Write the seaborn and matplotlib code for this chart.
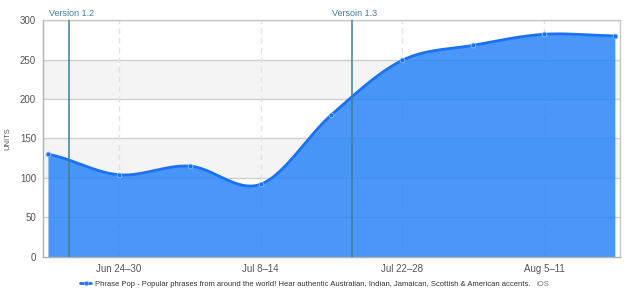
import numpy as np
import pandas as pd
import matplotlib
matplotlib.use("Agg")
import matplotlib.pyplot as plt
import seaborn as sns
from matplotlib.lines import Line2D

# ---- data ----
weeks = ["Jun 17–23", "Jun 24–30", "Jul 1–7", "Jul 8–14", "Jul 15–21",
         "Jul 22–28", "Jul 29–Aug 4", "Aug 5–11", "Aug 12–18"]
units = [130, 104, 115, 92, 180, 249, 268, 282, 280]
shown_ticks = ["Jun 24–30", "Jul 8–14", "Jul 22–28", "Aug 5–11"]
version_labels = ["Version 1.2", "Versoin 1.3"]
version_pos = [0.30, 4.29]
series_label = ("Phrase Pop - Popular phrases from around the world! Hear authentic "
                "Australian, Indian, Jamaican, Scottish & American accents.")
platform = "iOS"
y_ticks = [0, 50, 100, 150, 200, 250, 300]

df = pd.DataFrame({"x": np.arange(len(weeks)), "units": units})

sns.set_style("white")
plt.rcParams["font.family"] = ["Liberation Sans", "DejaVu Sans"]

fig = plt.figure(figsize=(6.39, 3.04), dpi=100)
ax = fig.add_axes([0.0673, 0.155, 0.9027, 0.779])

# smooth curve (cubic Hermite with Catmull-Rom tangents) through the data
x = df["x"].to_numpy(float)
y = df["units"].to_numpy(float)
n = len(x)
m = np.zeros(n)
m[1:-1] = (y[2:] - y[:-2]) / (x[2:] - x[:-2])
m[0] = (y[1] - y[0]) / (x[1] - x[0]) * 0.6
m[-1] = 0.0
xs, ys = [], []
for i in range(n - 1):
    t = np.linspace(0, 1, 30)
    h = x[i + 1] - x[i]
    h00 = 2 * t**3 - 3 * t**2 + 1
    h10 = t**3 - 2 * t**2 + t
    h01 = -2 * t**3 + 3 * t**2
    h11 = t**3 - t**2
    xs.append(x[i] + t * h)
    ys.append(h00 * y[i] + h10 * h * m[i] + h01 * y[i + 1] + h11 * h * m[i + 1])
xs = np.concatenate(xs)
ys = np.concatenate(ys)

# alternating bands and grid
for lo in (100, 200):
    ax.axhspan(lo, lo + 50, color="#f4f4f4", zorder=0, lw=0)
for v in y_ticks[1:]:
    ax.axhline(v, color="#d0d0d0", lw=1, zorder=1)
tick_idx = [weeks.index(t) for t in shown_ticks]
for i in tick_idx:
    ax.axvline(i, color="#e2e2e2", lw=1, ls=(0, (4, 3)), zorder=1)

ax.fill_between(xs, 0, ys, color="#2a85f9", alpha=0.85, lw=0, zorder=2)
ax.plot(xs, ys, color="#1a72f2", lw=2, zorder=3, solid_capstyle="round")
sns.scatterplot(data=df, x="x", y="units", ax=ax, color="#1a72f2", s=12,
                edgecolor="#8fc0ff", linewidth=0.6, zorder=4, legend=False)

for lbl, pos in zip(version_labels, version_pos):
    ax.axvline(pos, color="#3d7f9a", lw=1.3, alpha=0.85, zorder=5)
    ax.text(pos + 0.03, 302, lbl, ha="center", va="bottom", fontsize=6.5,
            color="#3f7fa0", zorder=6, clip_on=False)

ax.set_xlim(-0.07, 8.07)
ax.set_ylim(0, 300)
ax.set_xticks(tick_idx)
ax.set_xticklabels(shown_ticks)
ax.set_yticks(y_ticks)
ax.tick_params(axis="both", labelsize=7, colors="#555555", length=0, pad=5)
ax.tick_params(axis="x", pad=5)
ax.set_xlabel("")
ax.set_ylabel("UNITS", fontsize=5.5, color="#555555", labelpad=6)
for s in ax.spines.values():
    s.set_color("#c8c8c8")
    s.set_linewidth(1)
ax.spines["left"].set_color("#b0b0b0")
ax.spines["bottom"].set_color("#b0b0b0")

# legend: size the text so it spans like the reference
fig.canvas.draw()
renderer = fig.canvas.get_renderer()
probe = fig.text(0, 0, series_label, fontsize=10)
w10 = probe.get_window_extent(renderer).width
probe.remove()
fs = 10 * 435 / w10

handle = Line2D([0], [0], color="#1a72f2", lw=2, marker="o", ms=3,
                mec="#8fc0ff", mew=0.5)
leg = fig.legend([handle], [series_label], loc="center left",
                 bbox_to_anchor=(80 / 639, 1 - 284 / 304), frameon=False,
                 fontsize=fs, handlelength=1.5, handletextpad=0.5,
                 borderaxespad=0, borderpad=0)
for t in leg.get_texts():
    t.set_color("#333333")
fig.canvas.draw()
tb = leg.get_texts()[0].get_window_extent(renderer)
fig.text((tb.x1 + 6) / 639, 1 - 284 / 304, platform, fontsize=5.5,
         color="#777777", ha="left", va="center")

fig.savefig("out.png", dpi=100)
